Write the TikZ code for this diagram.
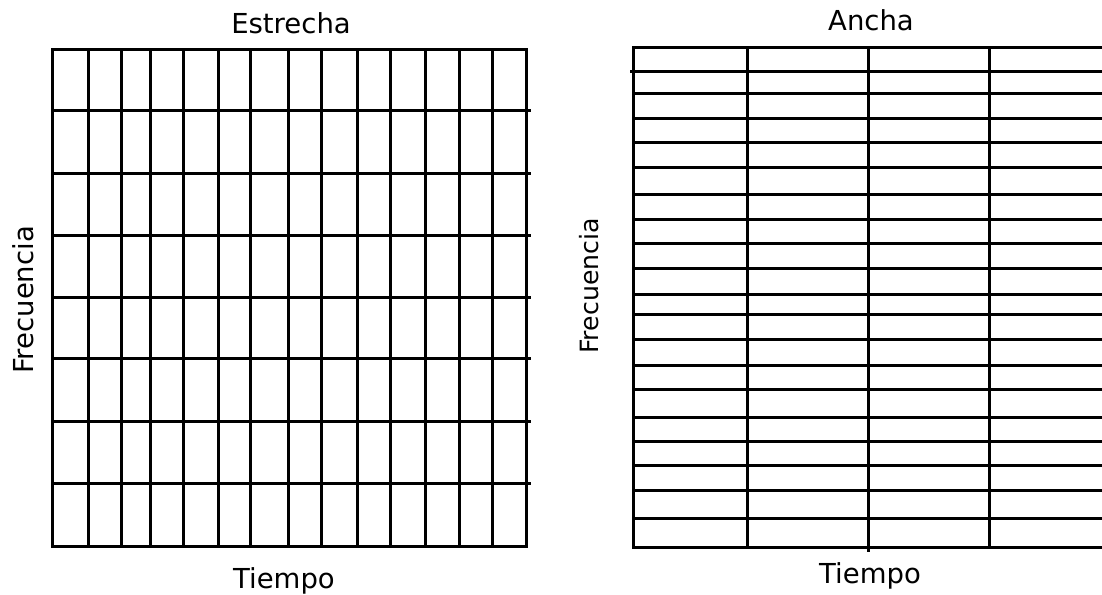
\documentclass[tikz,border=0pt]{standalone}
\usepackage{fontspec}
\setmainfont{DejaVu Sans}
\begin{document}
\begin{tikzpicture}[x=0.5pt,y=-0.5pt,
  gridline/.style={line width=1.5pt, black, line cap=rect},
  lbl/.style={font=\fontsize{13.75}{16}\selectfont, inner sep=0pt, anchor=base},
  lblsmall/.style={font=\fontsize{12.6}{15}\selectfont, inner sep=0pt, anchor=base}]
\useasboundingbox (0,0) rectangle (1102,594);
% ---------- left grid (Estrecha) ----------
\foreach \x in {52,88,121,150,183,218,250,288,321,357,390,425,459,492,526}
  \draw[gridline] (\x,49) -- (\x,546);
\foreach \y in {49,546}
  \draw[gridline] (52,\y) -- (526,\y);
\foreach \y in {110,173,235,297,358,421,483}
  \draw[gridline] (52,\y) -- (529,\y);
\node[lbl] (estrecha) at (291,33) {Estrecha};
\node[lbl] (tiempoL) at (284,588) {Tiempo};
\node[lbl, rotate=90] (frecL) at (33,300) {Frecuencia};
% ---------- right grid (Ancha) ----------
\foreach \x in {633,747,989}
  \draw[gridline] (\x,47) -- (\x,547);
\draw[gridline] (868,47) -- (868,550);
\foreach \y in {47,93,118,142,167,194,219,243,268,294,314,339,365,389,417,441,465,490,518,547}
  \draw[gridline] (633,\y) -- (1110,\y);
\draw[gridline] (631,71) -- (1110,71);
\node[lbl] (ancha) at (871,30) {Ancha};
\node[lbl] (tiempoR) at (870,583) {Tiempo};
\node[lblsmall, rotate=90] (frecR) at (598,286) {Frecuencia};
\end{tikzpicture}
\end{document}
